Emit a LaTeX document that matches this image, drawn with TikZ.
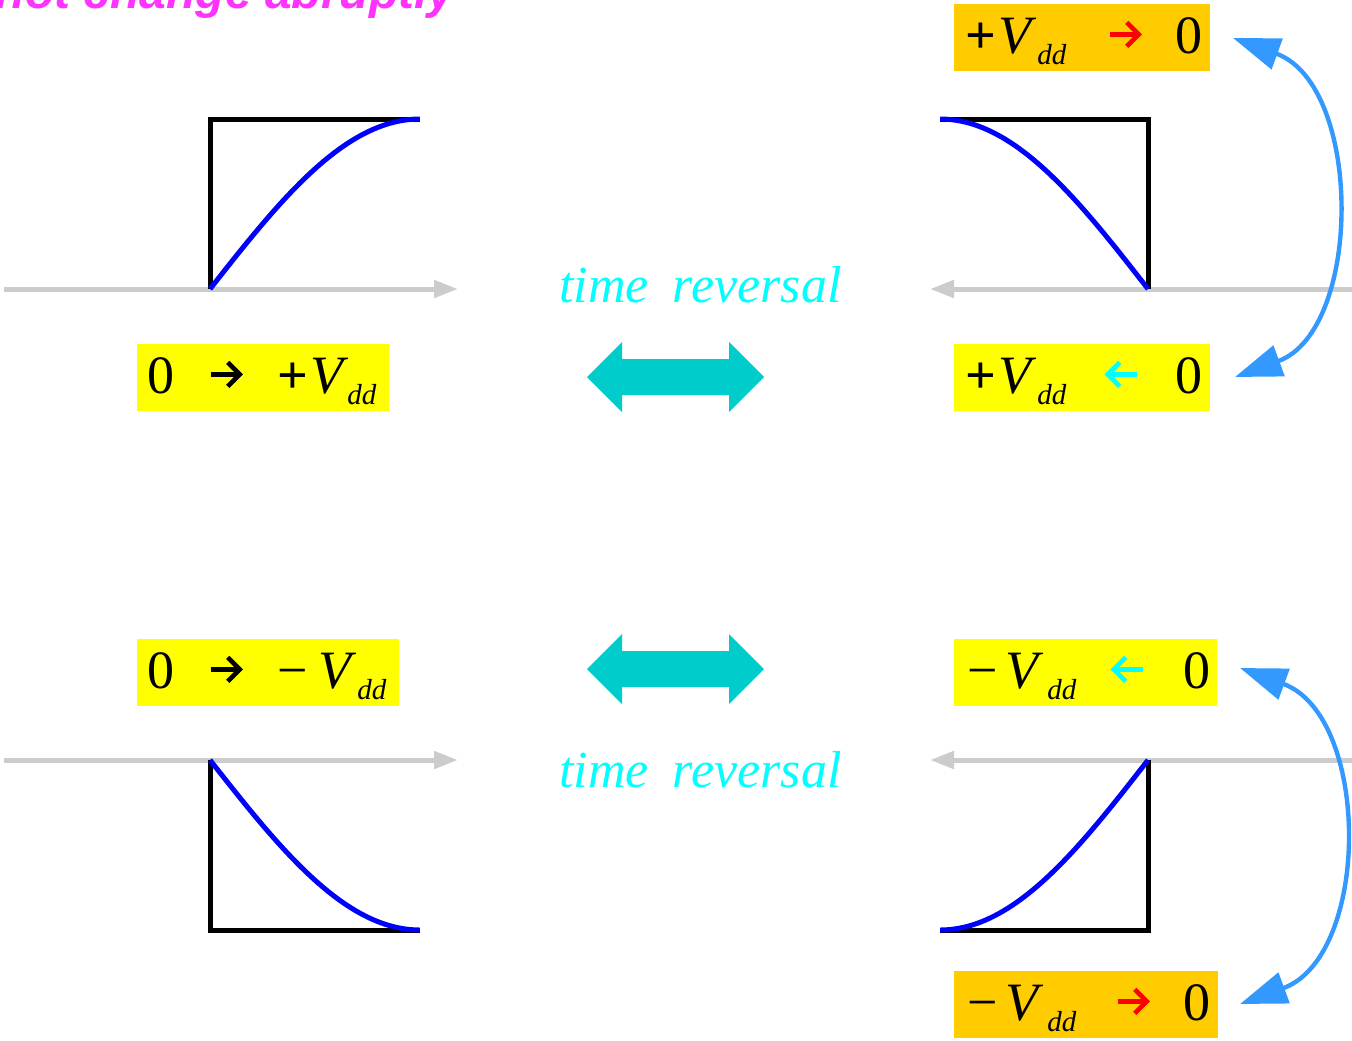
\documentclass[tikz,border=0pt]{standalone}
\usepackage{fontspec}
\setmainfont{Liberation Serif}
\newfontfamily\lsans{Liberation Sans}
\usetikzlibrary{arrows.meta}
\definecolor{vorange}{HTML}{FFCC00}
\definecolor{vyellow}{HTML}{FFFF00}
\definecolor{vcyan}{HTML}{00FFFF}
\definecolor{vteal}{HTML}{00CCCC}
\definecolor{vgray}{HTML}{CCCCCC}
\definecolor{vblue}{HTML}{0000FF}
\definecolor{vsky}{HTML}{3399FF}
\definecolor{vmag}{HTML}{FF33FF}
\newcommand\putat[2]{\rlap{\hspace*{#1}#2}}
\newcommand\vsub[1]{\raisebox{-5.5pt}{\fontsize{14.5}{14.5}\selectfont\itshape #1}}
\newcommand\varr[1]{\tikz[baseline=0pt,x=1pt,y=1pt]{\draw[#1,line width=2.3pt] (0,9.5)--(14.5,9.5); \draw[#1,line width=2.3pt,line join=miter] (8.5,3.5)--(14.5,9.5)--(8.5,15.5);}}
\newcommand\varl[1]{\tikz[baseline=0pt,x=1pt,y=1pt]{\draw[#1,line width=2.3pt] (1.5,9.5)--(16,9.5); \draw[#1,line width=2.3pt,line join=miter] (7.5,3.5)--(1.5,9.5)--(7.5,15.5);}}
\begin{document}
\begin{tikzpicture}[x=0.5pt,y=-0.5pt,
  vbox/.style={inner sep=0pt, anchor=north west, text height=24.5pt, text depth=9pt,
    font=\fontsize{27}{27}\selectfont},
  tr/.style={inner sep=0pt, anchor=base west, text=vcyan, font=\fontsize{26}{26}\selectfont\itshape},
  axisline/.style={draw=vgray, line width=2.5pt, -{Triangle[length=12pt,width=8.5pt]}},
  frame/.style={draw=black, line width=2.5pt},
  wave/.style={draw=vblue, line width=2.5pt},
  swap/.style={draw=vsky, line width=2.2pt, {Triangle[length=23.5pt,width=16pt]}-{Triangle[length=23.5pt,width=16pt]}},
  dbl/.style={fill=vteal, draw=none}]
\useasboundingbox (0,0) rectangle (1352,1040);

% title (cut off)
\node[inner sep=0pt, anchor=base east, text=vmag, font=\fontsize{24}{24}\selectfont\lsans\bfseries\itshape] (title) at (455,8) {not change abruptly};

% axes
\draw[axisline] (4,289) -- (458,289);
\draw[axisline] (1352,289) -- (930,289);
\draw[axisline] (4,760) -- (458,760);
\draw[axisline] (1352,760) -- (930,760);

% waveforms
\draw[frame] (210,289) -- (210,119) -- (420,119);
\draw[wave] plot[domain=0:1, samples=50] ({210+210*\x}, {289-170*sin(90*\x)});
\draw[frame] (940,119) -- (1148,119) -- (1148,289);
\draw[wave] plot[domain=0:1, samples=50] ({1148-208*\x}, {289-170*sin(90*\x)});
\draw[frame] (210,760) -- (210,930) -- (420,930);
\draw[wave] plot[domain=0:1, samples=50] ({210+210*\x}, {760+170*sin(90*\x)});
\draw[frame] (940,930) -- (1148,930) -- (1148,760);
\draw[wave] plot[domain=0:1, samples=50] ({1148-208*\x}, {760+170*sin(90*\x)});

% labels
\node[vbox, fill=vorange] (bTR) at (954,4) {\makebox[128pt][l]{\putat{5.5pt}{\textbf{+}}\putat{22pt}{\itshape V}\putat{41.5pt}{\vsub{dd}}\putat{76.5pt}{\varr{red}}\putat{110.5pt}{0}}};
\node[vbox, fill=vyellow] (bL1) at (137,344) {\makebox[126pt][l]{\putat{5pt}{0}\putat{35.5pt}{\varr{black}}\putat{70pt}{\textbf{+}}\putat{86.5pt}{\itshape V}\putat{105pt}{\vsub{dd}}}};
\node[vbox, fill=vyellow] (bR1) at (954,344) {\makebox[128pt][l]{\putat{5.5pt}{\textbf{+}}\putat{22pt}{\itshape V}\putat{41.5pt}{\vsub{dd}}\putat{75.5pt}{\varl{vcyan}}\putat{110.5pt}{0}}};
\node[vbox, fill=vyellow] (bL2) at (137,639) {\makebox[131pt][l]{\putat{5pt}{0}\putat{35.5pt}{\varr{black}}\putat{70pt}{−}\putat{90.5pt}{\itshape V}\putat{110pt}{\vsub{dd}}}};
\node[vbox, fill=vyellow] (bR2) at (954,639) {\makebox[131.5pt][l]{\putat{6.5pt}{−}\putat{25.5pt}{\itshape V}\putat{46.5pt}{\vsub{dd}}\putat{78.5pt}{\varl{vcyan}}\putat{114.5pt}{0}}};
\node[vbox, fill=vorange] (bR3) at (954,971) {\makebox[132pt][l]{\putat{6.5pt}{−}\putat{25.5pt}{\itshape V}\putat{46.5pt}{\vsub{dd}}\putat{80.5pt}{\varr{red}}\putat{114.5pt}{0}}};

% time reversal
\node[tr] (tr1) at (559,302) {time\hspace{12pt}reversal};
\node[tr] (tr2) at (559,787) {time\hspace{12pt}reversal};

% double arrows
\fill[dbl] (587,377) -- (622,342) -- (622,359) -- (729,359) -- (729,342) -- (764,377) -- (729,412) -- (729,395) -- (622,395) -- (622,412) -- cycle;
\fill[dbl] (587,669) -- (622,634) -- (622,651) -- (729,651) -- (729,634) -- (764,669) -- (729,704) -- (729,687) -- (622,687) -- (622,704) -- cycle;

% swap arrows
\coordinate (s1a) at (1233,38);
\coordinate (s1b) at (1235,377);
\coordinate (s2a) at (1240,668);
\coordinate (s2b) at (1240,1004);
\draw[swap] (s1a) .. controls (1363,85) and (1363,330) .. (s1b);
\draw[swap] (s2a) .. controls (1371,716) and (1371,956) .. (s2b);
\end{tikzpicture}
\end{document}
